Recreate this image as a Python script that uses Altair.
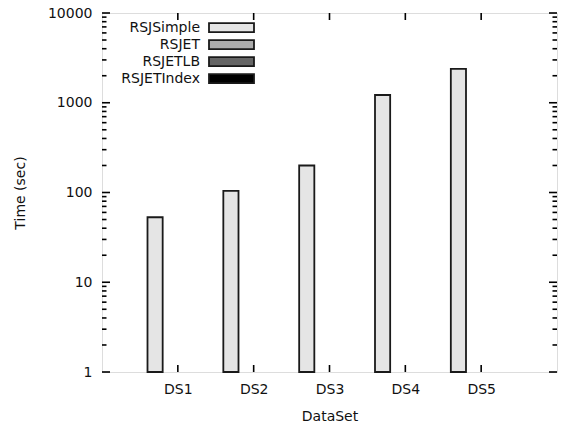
import json
import altair as alt
import pandas as pd

# ---- data ----
categories = ["DS1", "DS2", "DS3", "DS4", "DS5"]
series = ["RSJSimple", "RSJET", "RSJETLB", "RSJETIndex"]
series_colors = ["#e5e5e5", "#ababab", "#666666", "#000000"]
rsjsimple = [53, 104, 200, 1220, 2380]
y_major = [1, 10, 100, 1000, 10000]

FONT = "DejaVu Sans"
FS = 14
TXT = "#111111"
W, H = 455, 359

rows = []
for ci, (c, v) in enumerate(zip(categories, rsjsimple)):
    rows.append({"cat": c, "ci": ci, "series": series[0], "si": 0, "value": v})
bars_df = pd.DataFrame(rows)

legend_df = pd.DataFrame({"series": series, "si": list(range(len(series)))})

minor = []
for d in y_major[:-1]:
    for k in range(2, 10):
        minor.append(d * k)
ymaj_df = pd.DataFrame({"v": y_major})
ymin_df = pd.DataFrame({"v": minor})
xt_df = pd.DataFrame({"i": list(range(len(categories)))})

xscale = alt.Scale(domain=[-1, len(categories)], nice=False, zero=False)
yscale = alt.Scale(type="log", domain=[1, 10000], nice=False)
cscale = alt.Scale(domain=series, range=series_colors)

label_expr = json.dumps(categories) + "[datum.value]"

bars = alt.Chart(bars_df).mark_rect(stroke="#1a1a1a", strokeWidth=1.8).transform_calculate(
    x0="datum.ci - 0.4 + 0.2*datum.si", x1="datum.ci - 0.2 + 0.2*datum.si", base="1"
).encode(
    x=alt.X("x0:Q", scale=xscale, title="DataSet",
            axis=alt.Axis(values=list(range(len(categories))), labelExpr=label_expr,
                          ticks=False, grid=False, domain=False, labelFont=FONT,
                          labelFontSize=FS, labelColor=TXT, labelPadding=10,
                          titleFont=FONT, titleFontSize=FS, titleFontWeight="normal",
                          titleColor=TXT, titlePadding=13)),
    x2="x1:Q",
    y=alt.Y("value:Q", scale=yscale, title="Time (sec)",
            axis=alt.Axis(values=y_major, format="d", ticks=False, grid=False, domain=False,
                          labelFont=FONT, labelFontSize=FS, labelColor=TXT,
                          labelPadding=10, titleFont=FONT, titleFontSize=FS,
                          titleFontWeight="normal", titleColor=TXT, titlePadding=20)),
    y2="base:Q",
    fill=alt.Color("series:N", scale=cscale, legend=None),
)

rule_style = dict(color="black", strokeWidth=1.6)
ymaj_l = alt.Chart(ymaj_df).mark_rule(**rule_style).encode(
    y=alt.Y("v:Q", scale=yscale), x=alt.value(0), x2=alt.value(8))
ymaj_r = alt.Chart(ymaj_df).mark_rule(**rule_style).encode(
    y=alt.Y("v:Q", scale=yscale), x=alt.value(W - 8), x2=alt.value(W))
ymin_l = alt.Chart(ymin_df).mark_rule(**rule_style).encode(
    y=alt.Y("v:Q", scale=yscale), x=alt.value(0), x2=alt.value(4.5))
ymin_r = alt.Chart(ymin_df).mark_rule(**rule_style).encode(
    y=alt.Y("v:Q", scale=yscale), x=alt.value(W - 4.5), x2=alt.value(W))
xt_b = alt.Chart(xt_df).mark_rule(**rule_style).encode(
    x=alt.X("i:Q", scale=xscale), y=alt.value(H), y2=alt.value(H - 7))
xt_t = alt.Chart(xt_df).mark_rule(**rule_style).encode(
    x=alt.X("i:Q", scale=xscale), y=alt.value(0), y2=alt.value(7))

leg_sw = alt.Chart(legend_df).mark_rect(stroke="#1a1a1a", strokeWidth=1.8).transform_calculate(
    ly0="10.2 + 17*datum.si", ly1="19.2 + 17*datum.si"
).encode(
    x=alt.value(107), x2=alt.value(152),
    y=alt.Y("ly0:Q", scale=None), y2="ly1:Q",
    fill=alt.Color("series:N", scale=cscale, legend=None),
)
leg_tx = alt.Chart(legend_df).mark_text(
    align="right", baseline="middle", font=FONT, fontSize=FS, color=TXT
).transform_calculate(ly="15 + 17*datum.si").encode(
    x=alt.value(98), y=alt.Y("ly:Q", scale=None), text="series:N")

chart = alt.layer(
    bars, ymin_l, ymin_r, ymaj_l, ymaj_r, xt_b, xt_t, leg_sw, leg_tx
).properties(
    width=W, height=H,
    autosize=alt.AutoSizeParams(type="none"),
    padding={"left": 102, "top": 13, "right": 17, "bottom": 58},
).configure_view(stroke="black", strokeWidth=2).configure(background="white")

chart.save("out.html", embed_options={"renderer": "svg", "actions": False})
